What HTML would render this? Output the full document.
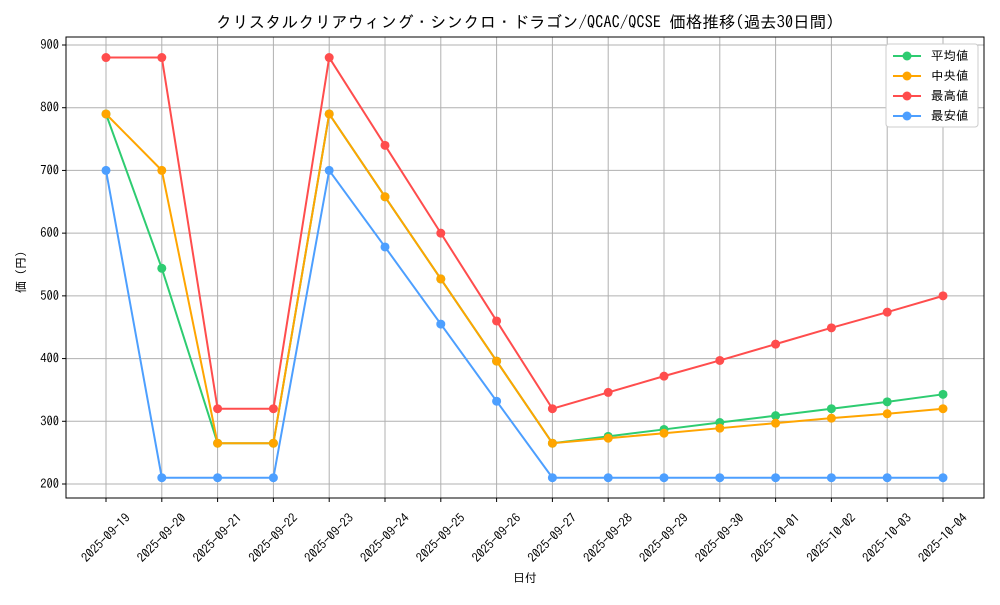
<!DOCTYPE html>
<html><head><meta charset="utf-8"><style>
body{margin:0;background:#fff}
svg text{font-family:"IPAGothic","Liberation Mono","Noto Sans CJK JP",monospace;fill:#000}
</style></head><body>
<svg id="chart" width="1000" height="600" xmlns="http://www.w3.org/2000/svg">
<rect width="1000" height="600" fill="#fff"/>
<text x="525" y="28" font-size="16.5" text-anchor="middle">クリスタルクリアウィング・シンクロ・ドラゴン/QCAC/QCSE 価格推移(過去30日間)</text>
<g id="grid"></g><g id="axes"></g><g id="series"></g><g id="legend"></g>
<text x="525" y="582" font-size="12" text-anchor="middle">日付</text>
<text transform="translate(25,272) rotate(-90)" font-size="12" text-anchor="middle">価 (円)</text>
</svg>
<script>
const categories=["2025-09-19","2025-09-20","2025-09-21","2025-09-22","2025-09-23","2025-09-24","2025-09-25","2025-09-26","2025-09-27","2025-09-28","2025-09-29","2025-09-30","2025-10-01","2025-10-02","2025-10-03","2025-10-04"];
const avgValues=[790,544,265,265,790,658,527,396,265,276,287,298,309,320,331,343];
const medianValues=[790,700,265,265,790,658,527,396,265,273,281,289,297,305,312,320];
const maxValues=[880,880,320,320,880,740,600,460,320,346,372,397,423,449,474,500];
const minValues=[700,210,210,210,700,578,455,332,210,210,210,210,210,210,210,210];
const yTicks=[200,300,400,500,600,700,800,900];
const seriesNames=["平均値","中央値","最高値","最安値"];
const NS="http://www.w3.org/2000/svg";
const L=66,R=984,T=37,B=498;
const x=i=>106+i*(943-106)/(categories.length-1);
const y=v=>484-(v-200)*(484-45)/700;
function mk(p,tag,a){const e=document.createElementNS(NS,tag);for(const k in a)e.setAttribute(k,a[k]);document.getElementById(p).appendChild(e);return e;}
categories.forEach((c,i)=>{
 const g=mk("grid","line",{x1:x(i),x2:x(i),y1:T,y2:B,stroke:"#b0b0b0","stroke-width":1});
 
 
 mk("axes","line",{x1:x(i),x2:x(i),y1:B,y2:B+4,stroke:"#000"});
 const cx=x(i),cy=B+40;
 const t=mk("axes","text",{x:cx,y:cy+4,"font-size":12.5,"text-anchor":"middle",transform:`rotate(-45 ${cx} ${cy})`});
 t.textContent=c;
 
 
});
yTicks.forEach(v=>{
 const g=mk("grid","line",{x1:L,x2:R,y1:y(v),y2:y(v),stroke:"#b0b0b0","stroke-width":1});
 
 
 mk("axes","line",{x1:L-4,x2:L,y1:y(v),y2:y(v),stroke:"#000"});
 const t=mk("axes","text",{x:L-7,y:y(v)+4,"font-size":12.5,"text-anchor":"end"});
 t.textContent=v;
 
 
});
const frame=mk("axes","rect",{x:L,y:T,width:R-L,height:B-T,fill:"none",stroke:"#000","stroke-width":1});


const all=[avgValues,medianValues,maxValues,minValues];
const colors=["#2ecc71","#ffa500","#ff4d4d","#4d9fff"];
const order=[0,2,3,1];
order.forEach(s=>{
 const d=all[s].map((v,i)=>(i?"L":"M")+x(i)+","+y(v)).join("");
 const p=mk("series","path",{d:d,fill:"none",stroke:colors[s],"stroke-width":2});
 
 
 all[s].forEach((v,i)=>{
  const c=mk("series","circle",{cx:x(i),cy:y(v),r:4.5,fill:colors[s]});
  
  
 });
});
const lb=mk("legend","rect",{x:886,y:44,width:92,height:83,fill:"#fff",stroke:"#ccc",rx:3});


seriesNames.forEach((n,i)=>{
 const yy=56+i*20;
 mk("legend","line",{x1:893,x2:921,y1:yy,y2:yy,stroke:colors[i],"stroke-width":2});
 mk("legend","circle",{cx:907,cy:yy,r:4.5,fill:colors[i]});
 const t=mk("legend","text",{x:931,y:yy+4,"font-size":12.5});
 t.textContent=(i==1?" ":"")+n;
 
 
});
</script>
</body></html>
